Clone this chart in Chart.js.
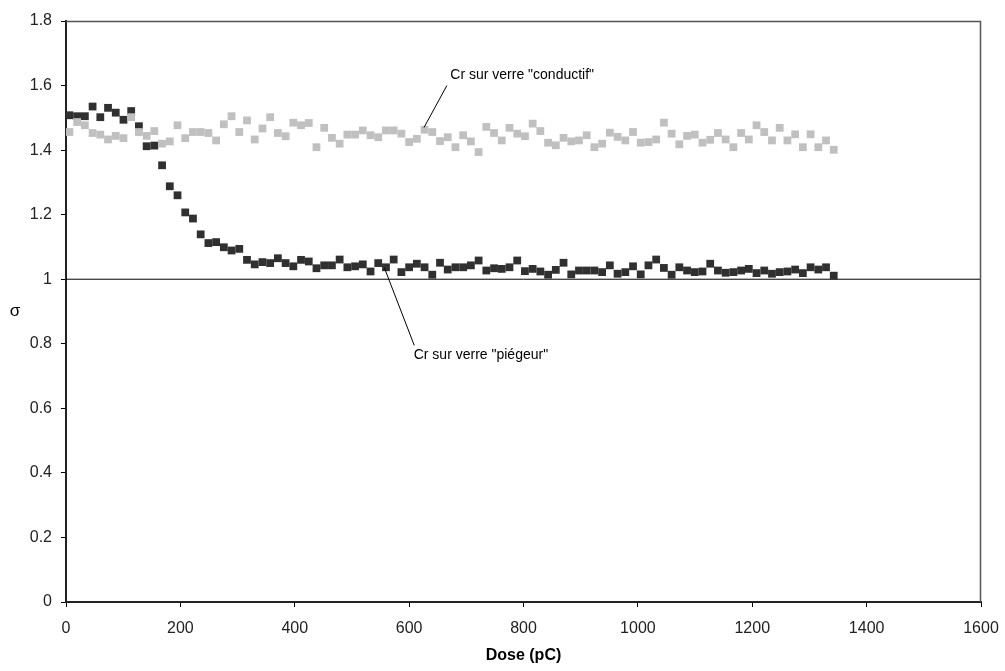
<!DOCTYPE html>
<html>
<head>
<meta charset="utf-8">
<script src="https://cdn.jsdelivr.net/npm/chart.js@4.4.0/dist/chart.umd.min.js"></script>
<style>
  html, body { margin: 0; padding: 0; background: #fff; }
  #wrap { width: 1005px; height: 671px; position: relative; }
</style>
</head>
<body>
<div id="wrap"><canvas id="c"></canvas></div>
<script>
// dose (pC) of each measurement
const dose = [
  6, 19.5, 33, 46.5, 60, 73.5, 87, 100.5, 114, 127.5,
  141, 154.5, 168, 181.5, 195, 208.5, 222, 235.5, 249, 262.5,
  276, 289.5, 303, 316.5, 330, 343.5, 357, 370.5, 384, 397.5,
  411, 424.5, 438, 451.5, 465, 478.5, 492, 505.5, 519, 532.5,
  546, 559.5, 573, 586.5, 600, 613.5, 627, 640.5, 654, 667.5,
  681, 694.5, 708, 721.5, 735, 748.5, 762, 775.5, 789, 802.5,
  816, 829.5, 843, 856.5, 870, 883.5, 897, 910.5, 924, 937.5,
  951, 964.5, 978, 991.5, 1005, 1018.5, 1032, 1045.5, 1059, 1072.5,
  1086, 1099.5, 1113, 1126.5, 1140, 1153.5, 1167, 1180.5, 1194, 1207.5,
  1221, 1234.5, 1248, 1261.5, 1275, 1288.5, 1302, 1315.5, 1329, 1342.5
];

// Cr sur verre "piégeur"
const sigmaPiegeur = [
  1.508, 1.505, 1.505, 1.535, 1.502, 1.531, 1.516, 1.494, 1.521, 1.474,
  1.412, 1.414, 1.353, 1.288, 1.260, 1.207, 1.188, 1.139, 1.112, 1.115,
  1.099, 1.089, 1.094, 1.060, 1.046, 1.053, 1.050, 1.065, 1.050, 1.040,
  1.060, 1.055, 1.034, 1.043, 1.043, 1.061, 1.037, 1.040, 1.046, 1.024,
  1.050, 1.037, 1.061, 1.022, 1.037, 1.048, 1.037, 1.014, 1.051, 1.030,
  1.037, 1.037, 1.043, 1.058, 1.027, 1.034, 1.032, 1.037, 1.058, 1.025,
  1.032, 1.024, 1.014, 1.029, 1.051, 1.015, 1.027, 1.027, 1.027, 1.022,
  1.043, 1.017, 1.022, 1.040, 1.015, 1.043, 1.061, 1.035, 1.014, 1.037,
  1.027, 1.022, 1.024, 1.048, 1.027, 1.020, 1.022, 1.027, 1.032, 1.019,
  1.027, 1.017, 1.022, 1.024, 1.030, 1.019, 1.037, 1.030, 1.037, 1.011
];

// Cr sur verre "conductif"
const sigmaConductif = [
  1.456, 1.487, 1.477, 1.453, 1.448, 1.433, 1.444, 1.437, 1.502, 1.456,
  1.444, 1.459, 1.420, 1.427, 1.477, 1.437, 1.456, 1.456, 1.453, 1.430,
  1.480, 1.505, 1.456, 1.492, 1.433, 1.467, 1.502, 1.453, 1.443, 1.485,
  1.477, 1.484, 1.409, 1.469, 1.438, 1.420, 1.448, 1.448, 1.461, 1.446,
  1.440, 1.461, 1.461, 1.451, 1.425, 1.435, 1.463, 1.456, 1.428, 1.440,
  1.409, 1.446, 1.427, 1.394, 1.472, 1.453, 1.430, 1.469, 1.451, 1.443,
  1.482, 1.459, 1.423, 1.415, 1.438, 1.427, 1.430, 1.446, 1.409, 1.420,
  1.454, 1.441, 1.430, 1.456, 1.423, 1.425, 1.433, 1.485, 1.451, 1.418,
  1.444, 1.448, 1.423, 1.432, 1.453, 1.433, 1.409, 1.453, 1.433, 1.477,
  1.456, 1.430, 1.469, 1.430, 1.449, 1.409, 1.449, 1.409, 1.430, 1.401
];

// reference line sigma = 1
const refX = [0, 1600];
const refY = [1, 1];

// callouts: text position and leader line, in data units
const callouts = [
  { text: 'Cr sur verre "conductif"', tx: 672, ty: 1.632, x1: 666, y1: 1.600, x2: 626, y2: 1.470 },
  { text: 'Cr sur verre "piégeur"', tx: 608, ty: 0.764, x1: 609, y1: 0.795, x2: 557, y2: 1.034 }
];

const FONT = '"Liberation Sans", Arial, sans-serif';

const extras = {
  id: 'extras',
  afterDraw(chart) {
    const ctx = chart.ctx;
    const a = chart.chartArea;
    const xs = chart.scales.x, ys = chart.scales.y;
    ctx.save();
    // frame top / right
    ctx.strokeStyle = '#555';
    ctx.lineWidth = 1.5;
    ctx.beginPath();
    ctx.moveTo(a.left, a.top + 0.5);
    ctx.lineTo(a.right - 0.5, a.top + 0.5);
    ctx.lineTo(a.right - 0.5, a.bottom);
    ctx.stroke();

    // callouts
    ctx.strokeStyle = '#000';
    ctx.lineWidth = 1;
    ctx.fillStyle = '#000';
    ctx.font = '14px ' + FONT;
    ctx.textBaseline = 'middle';
    ctx.textAlign = 'left';
    callouts.forEach(c => {
      ctx.beginPath();
      ctx.moveTo(xs.getPixelForValue(c.x1), ys.getPixelForValue(c.y1));
      ctx.lineTo(xs.getPixelForValue(c.x2), ys.getPixelForValue(c.y2));
      ctx.stroke();
      ctx.fillText(c.text, xs.getPixelForValue(c.tx), ys.getPixelForValue(c.ty));
    });

    // axis titles
    ctx.font = 'bold 16px ' + FONT;
    ctx.textAlign = 'center';
    ctx.fillText('Dose (pC)', (a.left + a.right) / 2, 656);
    ctx.font = '17px ' + FONT;
    ctx.fillText('σ', 15, (a.top + a.bottom) / 2);
    ctx.restore();
  }
};

new Chart(document.getElementById('c'), {
  type: 'scatter',
  data: {
    datasets: [
      {
        label: 'Cr sur verre "conductif"',
        data: dose.map((d, i) => ({ x: d, y: sigmaConductif[i] })),
        pointStyle: 'rect',
        pointRadius: 5.5,
        pointBorderWidth: 0,
        backgroundColor: '#c0c0c0',
        borderColor: '#c0c0c0',
        order: 1
      },
      {
        label: 'Cr sur verre "piégeur"',
        data: dose.map((d, i) => ({ x: d, y: sigmaPiegeur[i] })),
        pointStyle: 'rect',
        pointRadius: 5.5,
        pointBorderWidth: 0,
        backgroundColor: '#303030',
        borderColor: '#303030',
        order: 2
      },
      {
        type: 'line',
        label: 'sigma = 1',
        data: refX.map((x, i) => ({ x: x, y: refY[i] })),
        borderColor: '#000',
        borderWidth: 1,
        pointRadius: 0,
        order: 3
      }
    ]
  },
  options: {
    responsive: true,
    maintainAspectRatio: false,
    animation: false,
    layout: { padding: { top: 21, right: 24, left: 0, bottom: 0 } },
    plugins: {
      legend: { display: false },
      tooltip: { enabled: false }
    },
    scales: {
      x: {
        type: 'linear',
        min: 0,
        max: 1600,
        ticks: { stepSize: 200, color: '#222', font: { family: FONT, size: 16 }, padding: 12, maxRotation: 0,
                 callback: v => String(v) },
        grid: { drawOnChartArea: false, tickLength: 5, tickColor: '#000' },
        border: { color: '#222', width: 2 },
        afterFit(s) { s.height = 69; s.paddingRight = 0; s.paddingLeft = 0; }
      },
      y: {
        min: 0,
        max: 1.8,
        ticks: { stepSize: 0.2, color: '#222', font: { family: FONT, size: 16 }, padding: 9,
                 callback: v => String(+v.toFixed(1)) },
        grid: { drawOnChartArea: false, tickLength: 5, tickColor: '#000' },
        border: { color: '#222', width: 2 },
        afterFit(s) { s.width = 66; s.paddingTop = 0; s.paddingBottom = 0; }
      }
    }
  },
  plugins: [extras]
});
</script>
</body>
</html>
